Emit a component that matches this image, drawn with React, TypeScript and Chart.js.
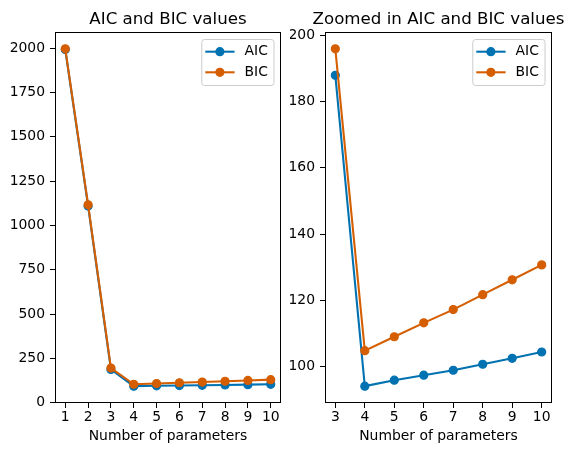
import { useEffect, useRef } from "react";
import { Chart, registerables } from "chart.js";

Chart.register(...registerables);

// ---- data ----
const paramCounts = [1, 2, 3, 4, 5, 6, 7, 8, 9, 10];
const aicValues = [1992, 1110, 187.9, 94.1, 95.9, 97.4, 98.9, 100.7, 102.5, 104.4];
const bicValues = [1996, 1117, 195.9, 104.8, 109.0, 113.2, 117.2, 121.7, 126.2, 130.7];
const zoomFromParam = 3;

const fullXTicks = [1, 2, 3, 4, 5, 6, 7, 8, 9, 10];
const fullYTicks = [0, 250, 500, 750, 1000, 1250, 1500, 1750, 2000];
const zoomXTicks = [3, 4, 5, 6, 7, 8, 9, 10];
const zoomYTicks = [100, 120, 140, 160, 180, 200];

const seriesLabels = ["AIC", "BIC"];
const seriesColors = ["#0072B2", "#D55E00"];
const fullTitle = "AIC and BIC values";
const zoomTitle = "Zoomed in AIC and BIC values";
const xTitle = "Number of parameters";

const FONT = "'DejaVu Sans', sans-serif";
const TICK_SIZE = 13.9;
const TITLE_SIZE = 16.67;

const frameLegendPlugin = {
  id: "frameLegend",
  afterDraw(chart: any, _args: any, opts: any) {
    const { ctx, chartArea: a } = chart;
    ctx.save();
    // title (drawn without width squeezing, centred over the axes)
    ctx.font = `${TITLE_SIZE}px ${FONT}`;
    ctx.fillStyle = "#000";
    ctx.textAlign = "center";
    ctx.textBaseline = "alphabetic";
    ctx.fillText(opts.title || "", (a.left + a.right) / 2, a.top - 8);

    // spines
    ctx.strokeStyle = "#000";
    ctx.lineWidth = 1;
    ctx.strokeRect(a.left + 0.5, a.top + 0.5, a.right - a.left - 1, a.bottom - a.top - 1);

    // legend
    ctx.font = `${TICK_SIZE}px ${FONT}`;
    const items = chart.data.datasets.map((ds: any) => ({ label: ds.label, color: ds.borderColor }));
    const textW = Math.max(...items.map((it: any) => ctx.measureText(it.label).width));
    const w = 43.3 + textW + 5.6;
    const h = 46;
    const right = a.right - 7.5;
    const L = right - w;
    const T = a.top + 7;
    ctx.beginPath();
    if (ctx.roundRect) ctx.roundRect(L + 0.5, T + 0.5, w, h, 2.8);
    else ctx.rect(L + 0.5, T + 0.5, w, h);
    ctx.fillStyle = "rgba(255,255,255,0.8)";
    ctx.fill();
    ctx.strokeStyle = "#cccccc";
    ctx.lineWidth = 1;
    ctx.stroke();

    items.forEach((it: any, i: number) => {
      const cy = T + 12.7 + i * 20.6;
      ctx.strokeStyle = it.color;
      ctx.lineWidth = 2.08;
      ctx.beginPath();
      ctx.moveTo(L + 4, cy);
      ctx.lineTo(L + 33.3, cy);
      ctx.stroke();
      ctx.beginPath();
      ctx.arc(L + 18.6, cy, 4, 0, Math.PI * 2);
      ctx.fillStyle = it.color;
      ctx.fill();
      ctx.lineWidth = 1.2;
      ctx.stroke();
      ctx.fillStyle = "#000";
      ctx.textAlign = "left";
      ctx.textBaseline = "middle";
      ctx.fillText(it.label, L + 43.3, cy);
    });
    ctx.restore();
  },
};

function makeConfig(
  xs: number[],
  aic: number[],
  bic: number[],
  xTicks: number[],
  yTicks: number[],
  title: string,
  yWidth: number,
  rightPad: number
): any {
  const allY = [...aic, ...bic];
  const yMin = Math.min(...allY);
  const yMax = Math.max(...allY);
  const yPad = (yMax - yMin) * 0.05;
  const xPad = (xs[xs.length - 1] - xs[0]) * 0.05;
  const series = [aic, bic];
  const tickFont = { family: FONT, size: TICK_SIZE };
  const grid = {
    display: true,
    drawOnChartArea: false,
    drawTicks: true,
    tickLength: 5,
    tickColor: "#000",
    tickWidth: 1,
  };
  return {
    type: "line",
    data: {
      datasets: series.map((vals, si) => ({
        label: seriesLabels[si],
        data: xs.map((x, i) => ({ x, y: vals[i] })),
        borderColor: seriesColors[si],
        backgroundColor: seriesColors[si],
        pointBackgroundColor: seriesColors[si],
        pointBorderColor: seriesColors[si],
        borderWidth: 2.08,
        pointRadius: 4,
        pointBorderWidth: 1.2,
        pointHoverRadius: 4,
        tension: 0,
        fill: false,
        order: series.length - si,
      })),
    },
    options: {
      responsive: false,
      animation: false,
      events: [],
      layout: { padding: { left: 0, right: rightPad, top: 32, bottom: 0 } },
      plugins: {
        legend: { display: false },
        tooltip: { enabled: false },
        title: { display: false },
        frameLegend: { title },
      },
      scales: {
        x: {
          type: "linear",
          min: xs[0] - xPad,
          max: xs[xs.length - 1] + xPad,
          afterFit: (s: any) => {
            s.height = 52;
          },
          afterBuildTicks: (s: any) => {
            s.ticks = xTicks.map((v) => ({ value: v }));
          },
          grid,
          border: { display: false },
          ticks: {
            color: "#000",
            font: tickFont,
            padding: 1.5,
            maxRotation: 0,
            autoSkip: false,
            callback: (v: any) => String(v),
          },
          title: {
            display: true,
            text: xTitle,
            color: "#000",
            font: tickFont,
            padding: { top: 0, bottom: 10.7 },
          },
        },
        y: {
          type: "linear",
          min: yMin - yPad,
          max: yMax + yPad,
          afterFit: (s: any) => {
            s.width = yWidth;
          },
          afterBuildTicks: (s: any) => {
            s.ticks = yTicks.map((v) => ({ value: v }));
          },
          grid,
          border: { display: false },
          ticks: {
            color: "#000",
            font: tickFont,
            padding: 5,
            autoSkip: false,
            callback: (v: any) => String(v),
          },
        },
      },
    },
    plugins: [frameLegendPlugin],
  };
}

export default function App() {
  const leftRef = useRef<HTMLCanvasElement | null>(null);
  const rightRef = useRef<HTMLCanvasElement | null>(null);

  useEffect(() => {
    const start = paramCounts.indexOf(zoomFromParam);
    const c1 = new Chart(
      leftRef.current as HTMLCanvasElement,
      makeConfig(paramCounts, aicValues, bicValues, fullXTicks, fullYTicks, fullTitle, 55, 9)
    );
    const c2 = new Chart(
      rightRef.current as HTMLCanvasElement,
      makeConfig(
        paramCounts.slice(start),
        aicValues.slice(start),
        bicValues.slice(start),
        zoomXTicks,
        zoomYTicks,
        zoomTitle,
        35,
        21
      )
    );
    return () => {
      c1.destroy();
      c2.destroy();
    };
  }, []);

  return (
    <div
      style={{
        position: "absolute",
        left: 0,
        top: 0,
        width: 573,
        height: 455,
        background: "#fff",
        overflow: "hidden",
      }}
    >
      <canvas
        ref={leftRef}
        width={290}
        height={455}
        style={{ position: "absolute", left: 0, top: 0, width: 290, height: 455 }}
      />
      <canvas
        ref={rightRef}
        width={283}
        height={455}
        style={{ position: "absolute", left: 290, top: 0, width: 283, height: 455 }}
      />
    </div>
  );
}
